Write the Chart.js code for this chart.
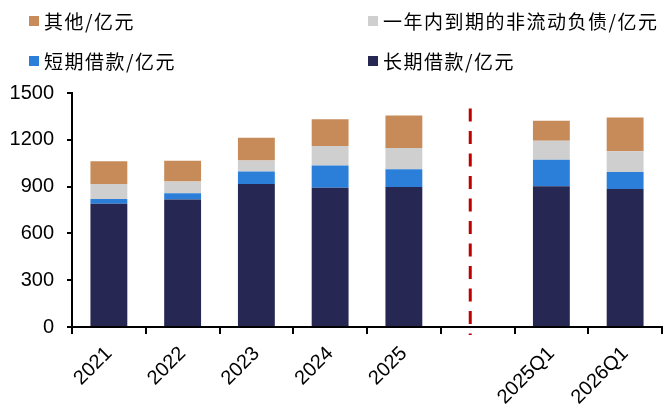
<!DOCTYPE html>
<html><head><meta charset="utf-8">
<script src="https://cdn.jsdelivr.net/npm/chart.js@4"></script>
<style>
html,body{margin:0;padding:0;background:#fff;}
#wrap{position:relative;width:665px;height:405px;}
canvas{position:absolute;left:0;top:0;}
.lg{position:absolute;font-family:"Noto Sans CJK SC";font-size:19px;letter-spacing:1.5px;color:#000;line-height:24px;white-space:nowrap;}
.lg span.sq{position:absolute;width:10px;height:10px;top:7px;}
</style></head>
<body><div id="wrap"><canvas id="c" width="665" height="405"></canvas></div>
<script>
const categories = ['2021','2022','2023','2024','2025','','2025Q1','2026Q1'];
const longTermLoans = [790, 818, 916, 893, 897, null, 903, 884];
const shortTermLoans = [30, 40, 81, 143, 115, null, 169, 109];
const currentNonCurrent = [96, 75, 71, 124, 135, null, 122, 133];
const others = [147, 133, 145, 172, 209, null, 128, 217];
const yTicks = [0, 300, 600, 900, 1200, 1500];
const dividerTop = 1400;

const colors = {navy:'#262853', blue:'#2B7FD8', gray:'#D0CFD0', orange:'#C68B59'};
const legendItems = [
  {label:'其他/亿元', color:colors.orange, x:29, y:21},
  {label:'一年内到期的非流动负债/亿元', color:colors.gray, x:368, y:21},
  {label:'短期借款/亿元', color:colors.blue, x:29, y:61},
  {label:'长期借款/亿元', color:colors.navy, x:368, y:61}
];
const wrap = document.getElementById('wrap');
legendItems.forEach(it=>{
  const d=document.createElement('div');
  d.className='lg';
  d.style.left=it.x+'px';
  d.style.top=(it.y-12)+'px';
  d.style.paddingLeft='15px';
  const s=document.createElement('span');s.className='sq';s.style.left='0px';s.style.background=it.color;
  d.appendChild(s);
  d.appendChild(document.createTextNode(it.label));
  wrap.appendChild(d);
});

const divider = {
  id:'divider',
  afterDraw(chart){
    const x=chart.scales.x, y=chart.scales.y, ctx=chart.ctx;
    const px=x.getPixelForValue(4.9);
    ctx.save();
    ctx.strokeStyle='#C00000';ctx.lineWidth=3;ctx.setLineDash([13,9.5]);
    ctx.beginPath();ctx.moveTo(px,y.getPixelForValue(dividerTop));ctx.lineTo(px,y.bottom+8);ctx.stroke();
    ctx.restore();
  }
};

new Chart(document.getElementById('c'),{
  type:'bar',
  data:{labels:categories,datasets:[
    {label:'长期借款/亿元',data:longTermLoans,backgroundColor:colors.navy},
    {label:'短期借款/亿元',data:shortTermLoans,backgroundColor:colors.blue},
    {label:'一年内到期的非流动负债/亿元',data:currentNonCurrent,backgroundColor:colors.gray},
    {label:'其他/亿元',data:others,backgroundColor:colors.orange}
  ]},
  options:{
    responsive:false,animation:false,
    layout:{padding:{left:0,right:3,top:93,bottom:0}},
    datasets:{bar:{categoryPercentage:1,barPercentage:0.5}},
    plugins:{legend:{display:false},tooltip:{enabled:false}},
    scales:{
      x:{stacked:true,
        afterFit(s){s.height=78;},
        grid:{drawOnChartArea:false,drawTicks:true,tickLength:7,color:'#000',lineWidth:2,offset:true},
        border:{display:true,color:'#000',width:2},
        ticks:{color:'#000',font:{family:'Liberation Sans',size:20},minRotation:45,maxRotation:45,padding:8,autoSkip:false}},
      y:{stacked:true,min:0,max:1500,
        afterFit(s){s.width=72;},
        afterBuildTicks(s){s.ticks=yTicks.map(v=>({value:v}));},
        grid:{drawOnChartArea:false,drawTicks:true,tickLength:5,color:'#000',lineWidth:2},
        border:{display:true,color:'#000',width:2},
        ticks:{color:'#000',font:{family:'Liberation Sans',size:20},padding:13,callback:(v)=>String(v)}}
    }
  },
  plugins:[divider]
});
</script></body></html>
